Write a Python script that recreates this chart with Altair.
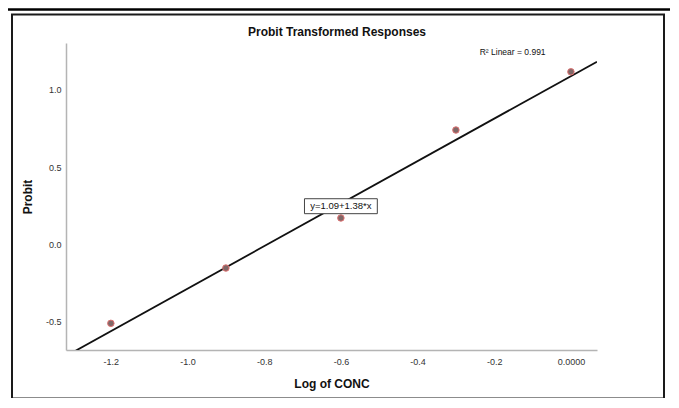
import altair as alt
import pandas as pd

# ---- data ----
log_conc = [-1.20, -0.90, -0.60, -0.30, 0.00]
probit = [-0.515, -0.156, 0.169, 0.740, 1.118]

# fitted line (as printed on the chart): y = 1.09 + 1.38*x
fit_intercept = 1.09
fit_slope = 1.38
fit_x_ends = [-1.32, 0.068]

x_ticks = [-1.2, -1.0, -0.8, -0.6, -0.4, -0.2, 0.0]
y_ticks = [-0.5, 0.0, 0.5, 1.0]
x_domain = [-1.317, 0.068]
y_domain = [-0.688, 1.305]

chart_title = ["Probit Transformed Responses"]
eq_label = ["y=1.09+1.38*x"]
eq_pos = [-0.6, 0.249]
eq_box = [-0.695, -0.505, 0.197, 0.294]
r2_label = ["R² Linear = 0.991"]
r2_pos = [-0.238, 1.245]

FONT = "Liberation Sans"

pts = pd.DataFrame({"x": log_conc, "y": probit})
fit = pd.DataFrame({"x": fit_x_ends,
                    "y": [fit_intercept + fit_slope * v for v in fit_x_ends]})

xs = alt.Scale(domain=x_domain, nice=False, zero=False)
ys = alt.Scale(domain=y_domain, nice=False, zero=False)

x_axis = alt.Axis(
    values=x_ticks, ticks=False, grid=False, domainColor="#b4b4b4", domainWidth=1.5,
    labelExpr="datum.value == 0 ? '0.0000' : (datum.value < 0 ? '-' : '') + format(abs(datum.value), '.1f')",
    labelFont=FONT, labelFontSize=9, labelColor="#333333", labelPadding=7,
    title="Log of CONC", titleFont=FONT, titleFontSize=12, titleFontWeight="bold",
    titleColor="#111111", titlePadding=12,
)
y_axis = alt.Axis(
    values=y_ticks, ticks=False, grid=False, domainColor="#b4b4b4", domainWidth=1.5,
    labelExpr="(datum.value < 0 ? '-' : '') + format(abs(datum.value), '.1f')",
    labelFont=FONT, labelFontSize=9, labelColor="#333333", labelPadding=5,
    title="Probit", titleFont=FONT, titleFontSize=12, titleFontWeight="bold",
    titleColor="#111111", titlePadding=11,
)

line = alt.Chart(fit).mark_line(color="#111111", strokeWidth=1.8, clip=True).encode(
    x=alt.X("x:Q", scale=xs, axis=x_axis),
    y=alt.Y("y:Q", scale=ys, axis=y_axis),
)

points = alt.Chart(pts).mark_point(
    filled=True, shape="circle", size=42, fill="#806868", stroke="#e07070",
    strokeWidth=1, opacity=1,
).encode(x=alt.X("x:Q", scale=xs), y=alt.Y("y:Q", scale=ys))

box_df = pd.DataFrame({"x": [eq_box[0]], "x2": [eq_box[1]], "y": [eq_box[2]], "y2": [eq_box[3]]})
box = alt.Chart(box_df).mark_rect(fill="white", stroke="#444444", strokeWidth=1).encode(
    x=alt.X("x:Q", scale=xs), x2="x2", y=alt.Y("y:Q", scale=ys), y2="y2"
)

eq_df = pd.DataFrame({"x": [eq_pos[0]], "y": [eq_pos[1]], "t": eq_label})
eq_text = alt.Chart(eq_df).mark_text(
    font=FONT, fontSize=9.5, color="#111111", align="center", baseline="middle"
).encode(x=alt.X("x:Q", scale=xs), y=alt.Y("y:Q", scale=ys), text="t:N")

r2_df = pd.DataFrame({"x": [r2_pos[0]], "y": [r2_pos[1]], "t": r2_label})
r2_text = alt.Chart(r2_df).mark_text(
    font=FONT, fontSize=8.5, color="#111111", align="left", baseline="middle"
).encode(x=alt.X("x:Q", scale=xs), y=alt.Y("y:Q", scale=ys), text="t:N")

# chart title as a text mark (centered over the frame)
title_df = pd.DataFrame({"t": chart_title})
title = alt.Chart(title_df).mark_text(
    font=FONT, fontSize=12, fontWeight="bold", color="#111111",
    align="center", baseline="middle"
).encode(x=alt.value(271), y=alt.value(-11), text="t:N")

# decorative frames (pixel offsets relative to the plot area)
frame = alt.Chart(pd.DataFrame({"a": [0]})).mark_rect(
    fill=None, fillOpacity=0, stroke="#1a1a1a", strokeWidth=2
).encode(x=alt.value(-54), x2=alt.value(598), y=alt.value(-28.5), y2=alt.value(355.5))

outer_top = alt.Chart(pd.DataFrame({"a": [0]})).mark_rule(
    color="#000000", strokeWidth=2.5
).encode(x=alt.value(-58), x2=alt.value(604), y=alt.value(-33.5))

chart = alt.layer(outer_top, frame, line, points, box, eq_text, r2_text, title).properties(
    width=531, height=307,
    background="white",
    autosize=alt.AutoSizeParams(type="none"),
    padding={"left": 58, "top": 35, "right": 74, "bottom": 48},
).configure_view(strokeWidth=0)

chart.save("out.html", embed_options={"renderer": "svg", "actions": False})
